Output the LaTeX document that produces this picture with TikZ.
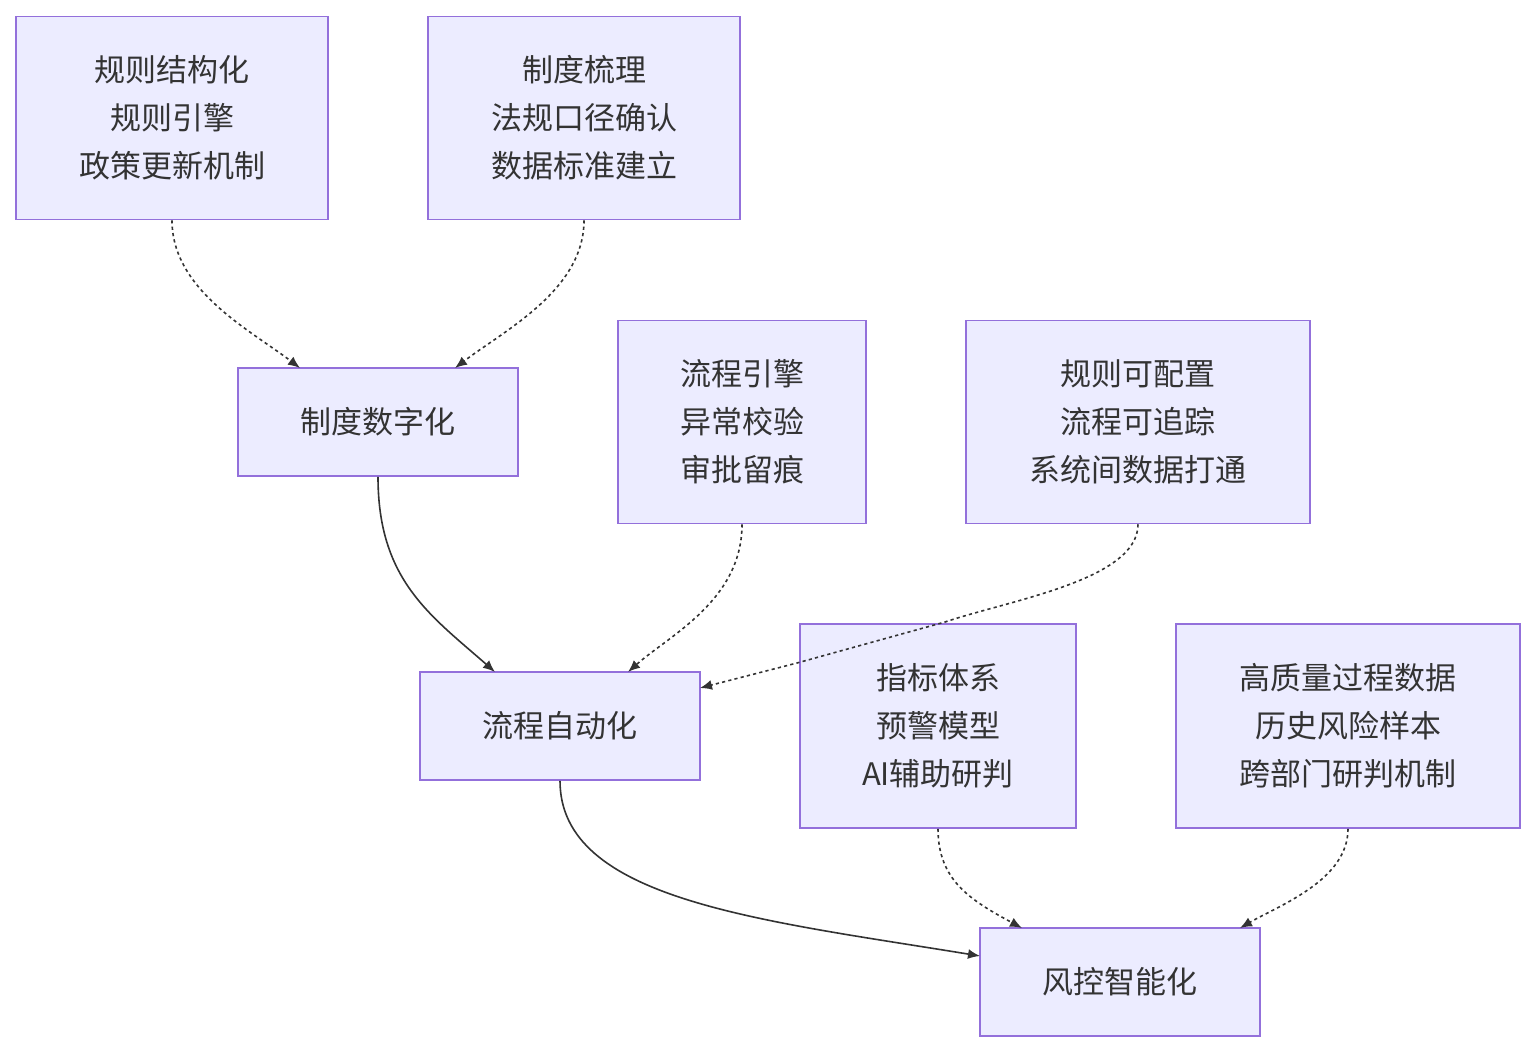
\documentclass[tikz,border=0pt]{standalone}
\usepackage{fontspec}
\setmainfont{Noto Sans CJK SC}
\usetikzlibrary{arrows.meta}
\begin{document}
\begin{tikzpicture}[x=0.5pt,y=-0.5pt,
 box/.style={draw=violet!70!blue!60!white,draw={rgb,255:red,147;green,112;blue,219},fill={rgb,255:red,236;green,236;blue,255},line width=0.8pt,align=center,inner sep=0pt,font=\fontsize{15.5pt}{24pt}\selectfont,text={rgb,255:red,51;green,51;blue,51}},
 ed/.style={draw={rgb,255:red,51;green,51;blue,51},line width=0.8pt,-{Latex[length=6pt,width=5pt]}},
 dt/.style={ed,dash pattern=on 1.6pt off 1.6pt}]
\useasboundingbox (0,0) rectangle (1535,1052);
\node[box,minimum width=156pt,minimum height=101.5pt] (A) at (172,118) {规则结构化\\规则引擎\\政策更新机制};
\node[box,minimum width=156pt,minimum height=101.5pt] (B) at (584,118) {制度梳理\\法规口径确认\\数据标准建立};
\node[box,minimum width=140pt,minimum height=54pt] (C) at (378,422) {制度数字化};
\node[box,minimum width=124pt,minimum height=101.5pt] (D) at (742,422) {流程引擎\\异常校验\\审批留痕};
\node[box,minimum width=172pt,minimum height=101.5pt] (E) at (1138,422) {规则可配置\\流程可追踪\\系统间数据打通};
\node[box,minimum width=140pt,minimum height=54pt] (F) at (560,726) {流程自动化};
\node[box,minimum width=138pt,minimum height=102pt] (G) at (938,726) {指标体系\\预警模型\\AI辅助研判};
\node[box,minimum width=172pt,minimum height=102pt] (H) at (1348,726) {高质量过程数据\\历史风险样本\\跨部门研判机制};
\node[box,minimum width=140pt,minimum height=54pt] (I) at (1120,982) {风控智能化};
\coordinate (c1) at (300,368);
\coordinate (c2) at (455,368);
\coordinate (f1) at (495,672);
\coordinate (f2) at (628,672);
\coordinate (f3) at (700,688);
\coordinate (i1) at (1022,928);
\coordinate (i2) at (1240,928);
\coordinate (i3) at (980,956);
\draw[dt] (A.south) .. controls (172,290) and (250,330) .. (c1);
\draw[dt] (B.south) .. controls (584,290) and (505,330) .. (c2);
\draw[ed] (C.south) .. controls (378,580) and (430,615) .. (f1);
\draw[dt] (D.south) .. controls (742,600) and (670,635) .. (f2);
\draw[dt] (E.south) .. controls (1138,580) and (1010,600) .. (945,622) -- (797,663) -- (f3);
\draw[ed] (F.south) .. controls (560,900) and (760,920) .. (i3);
\draw[dt] (G.south) .. controls (938,880) and (970,900) .. (i1);
\draw[dt] (H.south) .. controls (1348,880) and (1280,905) .. (i2);
\end{tikzpicture}
\end{document}
